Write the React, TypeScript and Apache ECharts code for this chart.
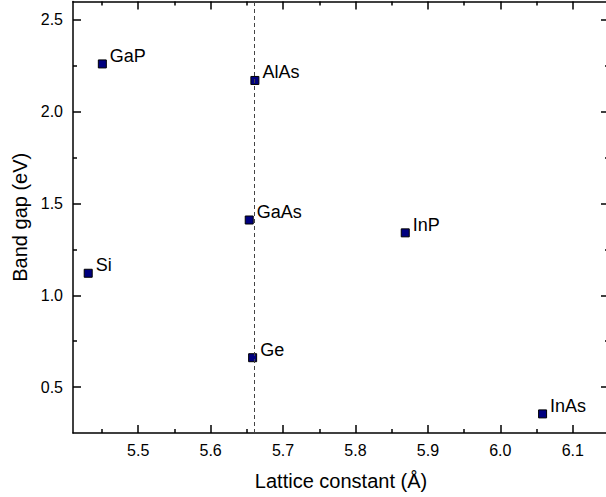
import React, { useEffect, useRef } from "react";
import * as echarts from "echarts";

const materials = ["Si", "GaP", "AlAs", "GaAs", "Ge", "InP", "InAs"];
const latticeConstants = [5.431, 5.4505, 5.6611, 5.6533, 5.658, 5.8687, 6.0583];
const bandGaps = [1.12, 2.26, 2.17, 1.41, 0.66, 1.34, 0.354];
const referenceLattice = 5.658;

const xMajorTicks = [5.5, 5.6, 5.7, 5.8, 5.9, 6.0, 6.1];
const xMinorTicks = [5.45, 5.55, 5.65, 5.75, 5.85, 5.95, 6.05];
const yMajorTicks = [0.5, 1.0, 1.5, 2.0, 2.5];
const yMinorTicks = [0.75, 1.25, 1.75, 2.25];

const FONT = "'Liberation Sans', Arial, Helvetica, sans-serif";

export default function App() {
  const ref = useRef<HTMLDivElement>(null);
  useEffect(() => {
    if (!ref.current) return;
    const chart = echarts.init(ref.current, null, { renderer: "svg" });
    const lineStyle = { color: "#000", width: 1.5 };
    const mkX = (position: string, ticks: number[], len: number, main: boolean) => ({
      type: "value",
      position,
      min: 5.41,
      max: 6.15,
      splitLine: { show: false },
      axisLine: { show: main, onZero: false, lineStyle },
      axisTick: {
        show: true,
        inside: true,
        length: len,
        customValues: ticks,
        lineStyle,
      },
      axisLabel: {
        show: main && position === "bottom",
        customValues: xMajorTicks,
        formatter: (v: number) => v.toFixed(1),
        color: "#000",
        fontSize: 16,
        fontFamily: FONT,
        margin: 9,
      },
      ...(main && position === "bottom"
        ? {
            name: "Lattice constant (Å)",
            nameLocation: "middle",
            nameGap: 38,
            nameTextStyle: { color: "#000", fontSize: 20, fontFamily: FONT },
          }
        : {}),
    });
    const mkY = (position: string, ticks: number[], len: number, main: boolean) => ({
      type: "value",
      position,
      min: 0.25,
      max: 2.6,
      splitLine: { show: false },
      axisLine: { show: main, onZero: false, lineStyle },
      axisTick: {
        show: true,
        inside: true,
        length: len,
        customValues: ticks,
        lineStyle,
      },
      axisLabel: {
        show: main && position === "left",
        customValues: yMajorTicks,
        formatter: (v: number) => v.toFixed(1),
        color: "#000",
        fontSize: 16,
        fontFamily: FONT,
        margin: 10,
      },
      ...(main && position === "left"
        ? {
            name: "Band gap (eV)",
            nameLocation: "middle",
            nameGap: 42,
            nameTextStyle: { color: "#000", fontSize: 20, fontFamily: FONT },
          }
        : {}),
    });

    const data = materials.map((m, i) => ({
      name: m,
      value: [latticeConstants[i], bandGaps[i]],
    }));

    chart.setOption({
      animation: false,
      backgroundColor: "#fff",
      grid: { left: 73, top: 1.5, width: 536, height: 431.5, containLabel: false },
      xAxis: [
        mkX("bottom", xMajorTicks, 8, true),
        mkX("bottom", xMinorTicks, 4, false),
        mkX("top", xMajorTicks, 8, true),
        mkX("top", xMinorTicks, 4, false),
      ],
      yAxis: [
        mkY("left", yMajorTicks, 8, true),
        mkY("left", yMinorTicks, 4, false),
        mkY("right", yMajorTicks, 8, true),
        mkY("right", yMinorTicks, 4, false),
      ],
      series: [
        {
          type: "scatter",
          xAxisIndex: 0,
          yAxisIndex: 0,
          symbol: "rect",
          symbolSize: 8,
          data,
          itemStyle: { color: "#00007f", borderColor: "#000", borderWidth: 1, opacity: 1 },
          label: {
            show: true,
            position: "right",
            distance: 3,
            offset: [0, -8],
            formatter: (p: any) => p.name,
            color: "#000",
            fontSize: 18,
            fontFamily: FONT,
          },
          markLine: {
            silent: true,
            symbol: "none",
            label: { show: false },
            lineStyle: { color: "#444", width: 1, type: [4, 3] },
            data: [{ xAxis: referenceLattice }],
          },
          z: 3,
        },
      ],
    });
    return () => chart.dispose();
  }, []);
  return (
    <div
      style={{
        position: "fixed",
        left: 0,
        top: 0,
        width: 606,
        height: 497,
        overflow: "hidden",
        background: "#fff",
      }}
    >
      <div ref={ref} style={{ width: 620, height: 497 }} />
    </div>
  );
}
